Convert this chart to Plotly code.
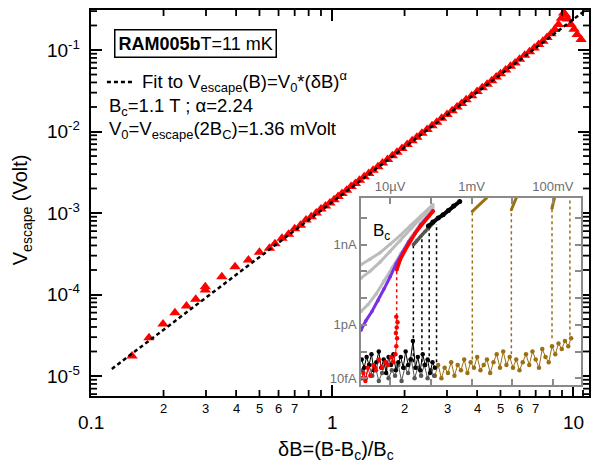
import numpy as np
import plotly.graph_objects as go

FONT = "Liberation Sans, Arial, sans-serif"

# ---- main data: escape voltage vs reduced field ----
dB = [0.148, 0.174, 0.199, 0.223, 0.249, 0.272, 0.298, 0.298, 0.349, 0.396, 0.45, 0.50,
      0.55, 0.58, 0.62, 0.66, 0.70, 0.74, 0.78, 0.82, 0.86, 0.90, 0.94, 0.98,
      1.02, 1.06, 1.10, 1.15, 1.20, 1.25, 1.30, 1.36, 1.42, 1.48, 1.55, 1.62,
      1.70, 1.78, 1.86, 1.95, 2.05, 2.15, 2.25, 2.36, 2.48, 2.60, 2.72, 2.85,
      3.0, 3.15, 3.3, 3.45, 3.6, 3.8, 4.0, 4.2, 4.4, 4.6, 4.8, 5.0,
      5.25, 5.5, 5.75, 6.0, 6.3, 6.6, 6.9, 7.2, 7.5, 7.8, 8.1, 8.4,
      8.7, 8.95, 9.15, 9.3, 9.5, 9.8, 10.1, 10.4, 10.8]
V_escape = [1.76e-5, 2.95e-5, 4.35e-5, 5.98e-5, 7.23e-5, 8.73e-5, 1.135e-4, 1.25e-4, 1.65e-4, 2.19e-4, 2.65e-4, 3.3e-4,
            3.7e-4, 4.2e-4, 4.9e-4, 5.5e-4, 6.4e-4, 7.1e-4, 8.2e-4, 9.0e-4, 1.0e-3, 1.12e-3, 1.22e-3, 1.33e-3,
            1.45e-3, 1.60e-3, 1.74e-3, 1.90e-3, 2.12e-3, 2.30e-3, 2.52e-3, 2.78e-3, 3.05e-3, 3.35e-3, 3.70e-3, 4.10e-3,
            4.55e-3, 5.05e-3, 5.55e-3, 6.2e-3, 6.95e-3, 7.7e-3, 8.5e-3, 9.5e-3, 1.06e-2, 1.18e-2, 1.30e-2, 1.45e-2,
            1.62e-2, 1.80e-2, 2.0e-2, 2.2e-2, 2.45e-2, 2.75e-2, 3.1e-2, 3.45e-2, 3.8e-2, 4.2e-2, 4.65e-2, 5.1e-2,
            5.7e-2, 6.3e-2, 6.95e-2, 7.7e-2, 8.6e-2, 9.5e-2, 0.106, 0.117, 0.128, 0.142, 0.158, 0.178,
            0.205, 0.245, 0.285, 0.27, 0.24, 0.205, 0.18, 0.155, 0.135]

# power-law fit V0*(dB)^alpha
V0 = 1.36e-3
alpha = 2.24
fit_x = np.logspace(np.log10(0.122), np.log10(11.8), 200)
fit_y = V0 * fit_x ** alpha

# axis ranges (log10) and tick positions
X_RANGE = [-1.0, 1.0663]
Y_RANGE = [-5.245, -0.509]
x_major = [0.1, 1, 10]
x_major_text = ["0.1", "1", "10"]
x_digits = [0.2, 0.3, 0.4, 0.5, 0.6, 0.7, 2, 3, 4, 5, 6, 7]
x_digit_text = ["2", "3", "4", "5", "6", "7", "2", "3", "4", "5", "6", "7"]
x_minor = [0.2, 0.3, 0.4, 0.5, 0.6, 0.7, 0.8, 0.9, 2, 3, 4, 5, 6, 7, 8, 9, 11]
y_major = [1e-5, 1e-4, 1e-3, 1e-2, 1e-1]
y_major_text = ["10<sup>-5</sup>", "10<sup>-4</sup>", "10<sup>-3</sup>", "10<sup>-2</sup>", "10<sup>-1</sup>"]
y_minor = [6e-6, 7e-6, 8e-6, 9e-6] + [m * d for d in (1e-5, 1e-4, 1e-3, 1e-2) for m in range(2, 10)] + [0.2, 0.3]

# ---- inset data: I-V curves (log10 of volts, log10 of amps) ----
X2_RANGE = [-5.72, -0.306]
Y2_RANGE = [-14.25, -7.25]
gray_x = [-5.72, -5.50, -5.25, -5.00, -4.75, -4.50, -4.25, -3.95]
gray1_y = [-9.75, -9.55, -9.30, -8.98, -8.65, -8.28, -7.92, -7.50]
gray2_y = [-10.25, -10.0, -9.65, -9.25, -8.85, -8.42, -8.0, -7.55]
gray3_x = [-5.72, -5.55, -5.35, -5.15, -4.95, -4.75, -4.50, -4.25, -3.95]
gray3_y = [-11.5, -11.25, -10.85, -10.35, -9.85, -9.35, -8.75, -8.2, -7.62]
purple_x = [-5.72, -5.60, -5.45, -5.30, -5.15, -5.00, -4.85, -4.70, -4.55, -4.40, -4.25, -4.10, -3.95]
purple_y = [-12.2, -11.85, -11.5, -11.1, -10.65, -10.2, -9.7, -9.3, -8.9, -8.6, -8.25, -8.0, -7.72]
red_x = [-4.84, -4.75, -4.63, -4.50, -4.39, -4.26, -4.14, -4.04, -3.94]
red_y = [-9.95, -9.55, -9.2, -8.85, -8.58, -8.32, -8.08, -7.92, -7.75]
red_nx = [-5.70, -5.66, -5.61, -5.55, -5.49, -5.42, -5.35, -5.28, -5.20, -5.12, -5.05, -4.98,
          -4.92, -4.87, -4.85, -4.83, -4.86, -4.84, -4.82, -4.85]
red_ny = [-14.0, -13.8, -14.1, -13.6, -13.9, -13.5, -13.7, -13.3, -13.6, -13.4, -13.5, -13.2,
          -13.4, -13.1, -12.8, -12.5, -12.3, -12.1, -11.9, -11.7]
dkg_x = [-4.43, -4.35, -4.25, -4.14, -4.04, -3.95, -3.86]
dkg_y = [-9.0, -8.85, -8.68, -8.5, -8.35, -8.2, -8.05]
dkg_nx = [-5.68, -5.60, -5.52, -5.44, -5.36, -5.28, -5.20, -5.12, -5.04, -4.96, -4.88, -4.80,
          -4.72, -4.64, -4.56, -4.48, -4.40, -4.32, -4.24, -4.16, -4.08, -4.00, -3.92]
dkg_ny = [-13.7, -14.0, -13.5, -13.9, -13.6, -14.1, -13.8, -13.4, -14.0, -13.7, -13.9, -13.5,
          -14.1, -13.6, -13.8, -13.3, -14.0, -13.6, -13.9, -13.5, -14.0, -13.7, -13.9]
blk_x = [-4.06, -3.95, -3.82, -3.70, -3.57, -3.44, -3.29]
blk_y = [-8.3, -8.15, -8.0, -7.88, -7.72, -7.55, -7.38]
blk_nx = [-5.70, -5.64, -5.58, -5.52, -5.46, -5.40, -5.34, -5.28, -5.22, -5.16, -5.10, -5.04,
          -4.98, -4.92, -4.86, -4.80, -4.74, -4.68, -4.62, -4.56, -4.50, -4.44, -4.38, -4.32,
          -4.26, -4.20, -4.14, -4.08, -4.02, -3.96, -3.90]
blk_ny = [-13.3, -13.6, -13.2, -13.5, -13.1, -13.7, -13.4, -13.0, -13.6, -13.3, -13.8, -13.2,
          -13.5, -13.1, -13.7, -13.4, -13.2, -13.6, -13.0, -13.5, -13.3, -12.6, -13.6, -13.2,
          -13.7, -13.1, -13.5, -13.3, -13.8, -13.4, -13.6]
blk_jump_x = [-4.43, -4.22, -4.04, -3.86]
blk_jump_lo = [-13.4, -13.4, -13.4, -13.4]
blk_jump_hi = [-9.0, -8.56, -8.3, -8.22]
brn_nx = [-3.90, -3.82, -3.74, -3.66, -3.58, -3.50, -3.42, -3.34, -3.26, -3.18, -3.10, -3.02,
          -2.94, -2.86, -2.78, -2.70, -2.62, -2.54, -2.46, -2.38, -2.30, -2.22, -2.14, -2.06,
          -1.98, -1.90, -1.82, -1.74, -1.66, -1.58, -1.50, -1.42, -1.34, -1.26, -1.18, -1.10,
          -1.02, -0.94, -0.86, -0.78, -0.70, -0.62, -0.55]
brn_ny = [-13.9, -13.5, -14.0, -13.6, -13.8, -13.4, -13.9, -13.5, -13.7, -13.3, -13.8, -13.4,
          -13.6, -13.2, -13.7, -13.5, -13.3, -13.8, -13.4, -13.1, -13.6, -13.0, -13.5, -13.2,
          -13.6, -13.3, -13.7, -13.4, -13.1, -13.5, -13.0, -13.3, -13.6, -12.9, -13.2, -13.4,
          -12.8, -13.1, -12.7, -12.9, -12.6, -12.8, -12.5]
brn_jump_x = [-2.98, -2.02, -1.02, -0.58]
brn_jump_lo = [-13.3, -13.1, -12.5, -12.4]
brn_jump_hi = [-7.75, -7.69, -7.63, -7.25]
brn_seg_x = [[-2.98, -2.63], [-2.02, -1.90], [-1.02, -0.96]]
brn_seg_y = [[-7.75, -7.25], [-7.69, -7.25], [-7.63, -7.25]]

inset_xticks = [1e-5, 1e-4, 1e-3, 1e-2, 1e-1]
inset_xtext = ["10µV", "", "1mV", "", "100mV"]
inset_yticks = [1e-14, 1e-13, 1e-12, 1e-11, 1e-10, 1e-9, 1e-8]
inset_ytext = ["10fA", "", "1pA", "", "", "1nA", ""]

RED = "#ff0000"
PURPLE = "#7a2ee6"
LGRAY = "#bcbcbc"
DGRAY = "#555555"
BROWN = "#9c7012"
FRAME2 = "#8a8a8a"

W, H = 592, 463
ML, MR, MT, MB = 91, 1, 10, 67
PW, PH = W - ML - MR, H - MT - MB


def p10(a):
    return [None if v is None else 10 ** v for v in a]


def verticals(xs, lo, hi):
    vx, vy = [], []
    for x, a, b in zip(xs, lo, hi):
        vx += [x, x, None]
        vy += [a, b, None]
    return vx, vy


fig = go.Figure()

# main panel
fig.add_trace(go.Scatter(x=dB, y=V_escape, mode="markers",
                         marker=dict(symbol="triangle-up", size=10, color=RED, line=dict(width=0)),
                         showlegend=False))
fig.add_trace(go.Scatter(x=fit_x, y=fit_y, mode="lines",
                         line=dict(color="black", width=2.5, dash="4px,3px"), showlegend=False))


# inset panel
def inset(x, y, color, mode="lines+markers", width=2.5, size=3.5, dash=None):
    fig.add_trace(go.Scatter(x=p10(x), y=p10(y), mode=mode, xaxis="x2", yaxis="y2",
                             line=dict(color=color, width=width, dash=dash),
                             marker=dict(color=color, size=size), showlegend=False,
                             connectgaps=False))


inset(brn_nx, brn_ny, BROWN, width=1.0, size=4.5)
vx, vy = verticals(brn_jump_x, brn_jump_lo, brn_jump_hi)
inset(vx, vy, BROWN, mode="lines", width=1.5, dash="3px,3px")
for sx, sy in zip(brn_seg_x, brn_seg_y):
    inset(sx, sy, BROWN, width=3, size=3)
inset(dkg_nx, dkg_ny, DGRAY, width=1.0, size=4.5)
inset(blk_nx, blk_ny, "black", width=1.0, size=4.5)
inset(red_nx, red_ny, RED, width=1.0, size=4.5)
vx, vy = verticals(blk_jump_x, blk_jump_lo, blk_jump_hi)
inset(vx, vy, "black", mode="lines", width=1.5, dash="3px,3px")
inset([-4.84, -4.84], [-11.9, -9.95], RED, mode="lines", width=1.5, dash="3px,3px")
inset(gray_x, gray1_y, LGRAY, width=3)
inset(gray_x, gray2_y, LGRAY, width=3)
inset(gray3_x, gray3_y, LGRAY, width=3)
inset(purple_x, purple_y, PURPLE, width=3)
inset(red_x, red_y, RED, width=3.5)
inset(dkg_x, dkg_y, DGRAY, width=3.5)
inset(blk_x, blk_y, "black", width=4, size=5)


# minor frame ticks on all four sides, as short segments pointing inward
def tick_lines(vals, edge_log, inward, length, px_per_dec, vertical, color, width=1.5):
    inner = 10 ** (edge_log + inward * length / px_per_dec)
    a, b = [], []
    for v in vals:
        a += [v, v, None]
        b += [10 ** edge_log, inner, None]
    x, y = (a, b) if vertical else (b, a)
    fig.add_trace(go.Scatter(x=x, y=y, mode="lines", line=dict(color=color, width=width),
                             hoverinfo="skip", showlegend=False, cliponaxis=False))


px_x = PW / (X_RANGE[1] - X_RANGE[0])
px_y = PH / (Y_RANGE[1] - Y_RANGE[0])
for edge, inward in ((Y_RANGE[0], 1), (Y_RANGE[1], -1)):
    tick_lines(x_minor, edge, inward, 6, px_y, True, "black", 1.8)
for edge, inward in ((X_RANGE[0], 1), (X_RANGE[1], -1)):
    tick_lines(y_minor, edge, inward, 6, px_x, False, "black", 1.8)

fig.update_layout(
    width=W, height=H,
    margin=dict(l=ML, r=MR, t=MT, b=MB),
    paper_bgcolor="white", plot_bgcolor="white",
    font=dict(family=FONT, color="black"),
    xaxis=dict(type="log", domain=[0, 1], anchor="y", range=X_RANGE, showgrid=False,
               zeroline=False, showline=True, linecolor="black", linewidth=2, mirror="ticks",
               ticks="inside", ticklen=11, tickwidth=2, tickcolor="black",
               tickvals=x_major, showticklabels=False),
    yaxis=dict(type="log", domain=[0, 1], anchor="x", range=Y_RANGE, showgrid=False,
               zeroline=False, showline=True, linecolor="black", linewidth=2, mirror="ticks",
               ticks="inside", ticklen=11, tickwidth=2, tickcolor="black",
               tickvals=y_major,
               ticktext=[t + "\u00a0" for t in y_major_text],
               tickfont=dict(size=19)),
    xaxis2=dict(type="log", domain=[0.542, 0.984], anchor="y2", side="top",
                range=X2_RANGE, showgrid=False, zeroline=False, showline=True,
                linecolor=FRAME2, linewidth=1.5, mirror="ticks", ticks="inside",
                ticklen=6, tickwidth=1.8, tickcolor=FRAME2,
                tickvals=inset_xticks, ticktext=inset_xtext,
                tickfont=dict(size=13, color="#6e6e6e")),
    yaxis2=dict(type="log", domain=[0.0285, 0.513], anchor="x2",
                range=Y2_RANGE, showgrid=False, zeroline=False, showline=True,
                linecolor=FRAME2, linewidth=1.5, mirror="ticks", ticks="inside",
                ticklen=6, tickwidth=1.8, tickcolor=FRAME2,
                tickvals=inset_yticks, ticktext=inset_ytext,
                tickfont=dict(size=13, color="#6e6e6e")),
)

# bottom-axis labels: decades and in-between digits
for v, t in zip(x_major, x_major_text):
    fig.add_annotation(xref="x", yref="paper", x=np.log10(v), y=0, yshift=-26,
                       xanchor="center", yanchor="middle", text=t, showarrow=False,
                       font=dict(size=19))
for v, t in zip(x_digits, x_digit_text):
    fig.add_annotation(xref="x", yref="paper", x=np.log10(v), y=0, yshift=-12,
                       xanchor="center", yanchor="middle", text=t, showarrow=False,
                       font=dict(size=13))

# axis titles
fig.add_annotation(xref="paper", yref="paper", x=0.492, y=-0.14, xanchor="center",
                   yanchor="middle", text="δB=(B-B<sub>c</sub>)/B<sub>c</sub>",
                   showarrow=False, font=dict(size=20))
fig.add_annotation(xref="paper", yref="paper", x=-0.138, y=0.482, xanchor="center",
                   yanchor="middle", textangle=-90, text="V<sub>escape</sub> (Volt)",
                   showarrow=False, font=dict(size=20))

# legend / annotation block
fig.add_annotation(xref="paper", yref="paper", x=0.21, y=0.913, xanchor="center",
                   yanchor="middle", text="<b>RAM005b</b>T=11 mK", showarrow=False,
                   font=dict(size=18), bordercolor="black", borderwidth=1.5, borderpad=3,
                   bgcolor="white")
fig.add_shape(type="line", xref="paper", yref="paper", x0=0.032, x1=0.086, y0=0.8135, y1=0.8135,
              line=dict(color="black", width=2.5, dash="4px,3px"))
fig.add_annotation(xref="paper", yref="paper", x=0.098, y=0.8135, xanchor="left",
                   yanchor="middle",
                   text="Fit to V<sub>escape</sub>(B)=V<sub>0</sub>*(δB)<sup>α</sup>",
                   showarrow=False, font=dict(size=18.5))
fig.add_annotation(xref="paper", yref="paper", x=0.032, y=0.749, xanchor="left",
                   yanchor="middle",
                   text="B<sub>c</sub>=1.1 T ; α=2.24", showarrow=False, font=dict(size=18.5))
fig.add_annotation(xref="paper", yref="paper", x=0.032, y=0.689, xanchor="left",
                   yanchor="middle",
                   text="V<sub>0</sub>=V<sub>escape</sub>(2B<sub>C</sub>)=1.36 mVolt",
                   showarrow=False, font=dict(size=18.5))
fig.add_annotation(xref="paper", yref="paper", x=0.584, y=0.425, xanchor="center",
                   yanchor="middle", text="B<sub>c</sub>", showarrow=False, font=dict(size=17))

fig.write_html("out.html")
